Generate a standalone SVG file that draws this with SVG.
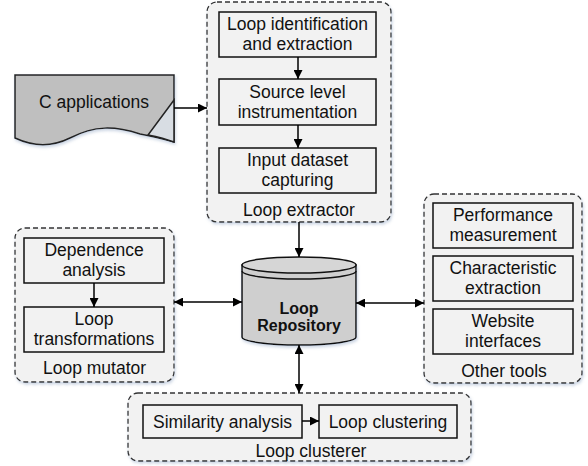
<svg xmlns="http://www.w3.org/2000/svg" width="588" height="466" viewBox="0 0 588 466">
<defs>
<filter id="sh" x="-10%" y="-10%" width="120%" height="130%">
<feDropShadow dx="1" dy="2" stdDeviation="1.5" flood-color="#8da3c2" flood-opacity="0.45"/>
</filter>
<marker id="ah" viewBox="0 0 10 10" refX="10" refY="5" markerWidth="9" markerHeight="9" markerUnits="userSpaceOnUse" orient="auto-start-reverse">
<path d="M0,0 L10,5 L0,10 Z" fill="#000"/>
</marker>
</defs>
<style>
.grp{fill:#f2f2f2;stroke:#333;stroke-width:1.3;stroke-dasharray:5,3;filter:url(#sh)}
.box{fill:#f2f2f2;stroke:#111;stroke-width:1.5}
text{font-family:"Liberation Sans",Arial,sans-serif;font-size:17.5px;fill:#111;text-anchor:middle}
.b{font-weight:bold;font-size:16px}
.c{stroke:#000;stroke-width:1.5;fill:none}
</style>

<g id="c-applications">
<path d="M15,75 H174 V142 C160,138 152,136 140,134 C115,126 95,125 70,138 C50,148 30,145 15,138 Z" fill="#bfbfbf" stroke="#222" stroke-width="1.5" filter="url(#sh)"/>
<path d="M174,100 L148,135 C158,137 166,139 174,142 Z" fill="#d8dde3" stroke="#222" stroke-width="1.5"/>
<text x="94" y="108">C applications</text>
</g>

<g id="loop-extractor">
<rect class="grp" x="207" y="2" width="184" height="220" rx="10"/>
<text x="299" y="216">Loop extractor</text>
</g>
<g id="loop-identification">
<rect class="box" x="219" y="12" width="157" height="45"/>
<text x="297.5" y="30">Loop identification</text>
<text x="297.5" y="50">and extraction</text>
</g>
<g id="source-level">
<rect class="box" x="219" y="79" width="157" height="46"/>
<text x="297.5" y="98">Source level</text>
<text x="297.5" y="118">instrumentation</text>
</g>
<g id="input-dataset">
<rect class="box" x="219" y="148" width="157" height="45"/>
<text x="297.5" y="166">Input dataset</text>
<text x="297.5" y="186">capturing</text>
</g>

<g id="loop-mutator">
<rect class="grp" x="15" y="228" width="159" height="154" rx="10"/>
<text x="94.5" y="374">Loop mutator</text>
</g>
<g id="dependence-analysis">
<rect class="box" x="24" y="238" width="140" height="45"/>
<text x="94" y="256">Dependence</text>
<text x="94" y="276">analysis</text>
</g>
<g id="loop-transformations">
<rect class="box" x="24" y="307" width="140" height="45"/>
<text x="94" y="325">Loop</text>
<text x="94" y="345">transformations</text>
</g>

<g id="loop-repository">
<path d="M242,265 V337 A57,8 0 0 0 356,337 V265 Z" fill="#cfcfcf" stroke="#111" stroke-width="1.5" filter="url(#sh)"/>
<ellipse cx="299" cy="265" rx="57" ry="8" fill="#d6d6d6" stroke="#111" stroke-width="1.5"/>
<path d="M242,271 A57,8 0 0 0 356,271" fill="none" stroke="#111" stroke-width="1.5"/>
<text class="b" x="299" y="314">Loop</text>
<text class="b" x="299" y="331">Repository</text>
</g>

<g id="other-tools">
<rect class="grp" x="424" y="194" width="158" height="189" rx="10"/>
<text x="504" y="377">Other tools</text>
</g>
<g id="performance-measurement">
<rect class="box" x="433" y="203" width="140" height="45"/>
<text x="503" y="221">Performance</text>
<text x="503" y="241">measurement</text>
</g>
<g id="characteristic-extraction">
<rect class="box" x="433" y="256" width="140" height="45"/>
<text x="503" y="274">Characteristic</text>
<text x="503" y="294">extraction</text>
</g>
<g id="website-interfaces">
<rect class="box" x="433" y="309" width="140" height="45"/>
<text x="503" y="327">Website</text>
<text x="503" y="347">interfaces</text>
</g>

<g id="loop-clusterer">
<rect class="grp" x="128" y="393" width="343" height="68" rx="10"/>
<text x="311" y="457">Loop clusterer</text>
</g>
<g id="similarity-analysis">
<rect class="box" x="143" y="405" width="159" height="33"/>
<text x="222.5" y="428">Similarity analysis</text>
</g>
<g id="loop-clustering">
<rect class="box" x="319" y="405" width="138" height="33"/>
<text x="388" y="428">Loop clustering</text>
</g>

<g id="connectors">
<line class="c" x1="174" y1="108" x2="207" y2="108" marker-end="url(#ah)"/>
<line class="c" x1="298" y1="57" x2="298" y2="79" marker-end="url(#ah)"/>
<line class="c" x1="298" y1="125" x2="298" y2="148" marker-end="url(#ah)"/>
<line class="c" x1="299" y1="222" x2="299" y2="257" marker-end="url(#ah)"/>
<line class="c" x1="94" y1="283" x2="94" y2="307" marker-end="url(#ah)"/>
<line class="c" x1="174" y1="302" x2="242" y2="302" marker-start="url(#ah)" marker-end="url(#ah)"/>
<line class="c" x1="356" y1="303" x2="424" y2="303" marker-start="url(#ah)" marker-end="url(#ah)"/>
<line class="c" x1="299" y1="345" x2="299" y2="393" marker-start="url(#ah)" marker-end="url(#ah)"/>
<line class="c" x1="302" y1="421" x2="319" y2="421" marker-end="url(#ah)"/>
</g>
</svg>
